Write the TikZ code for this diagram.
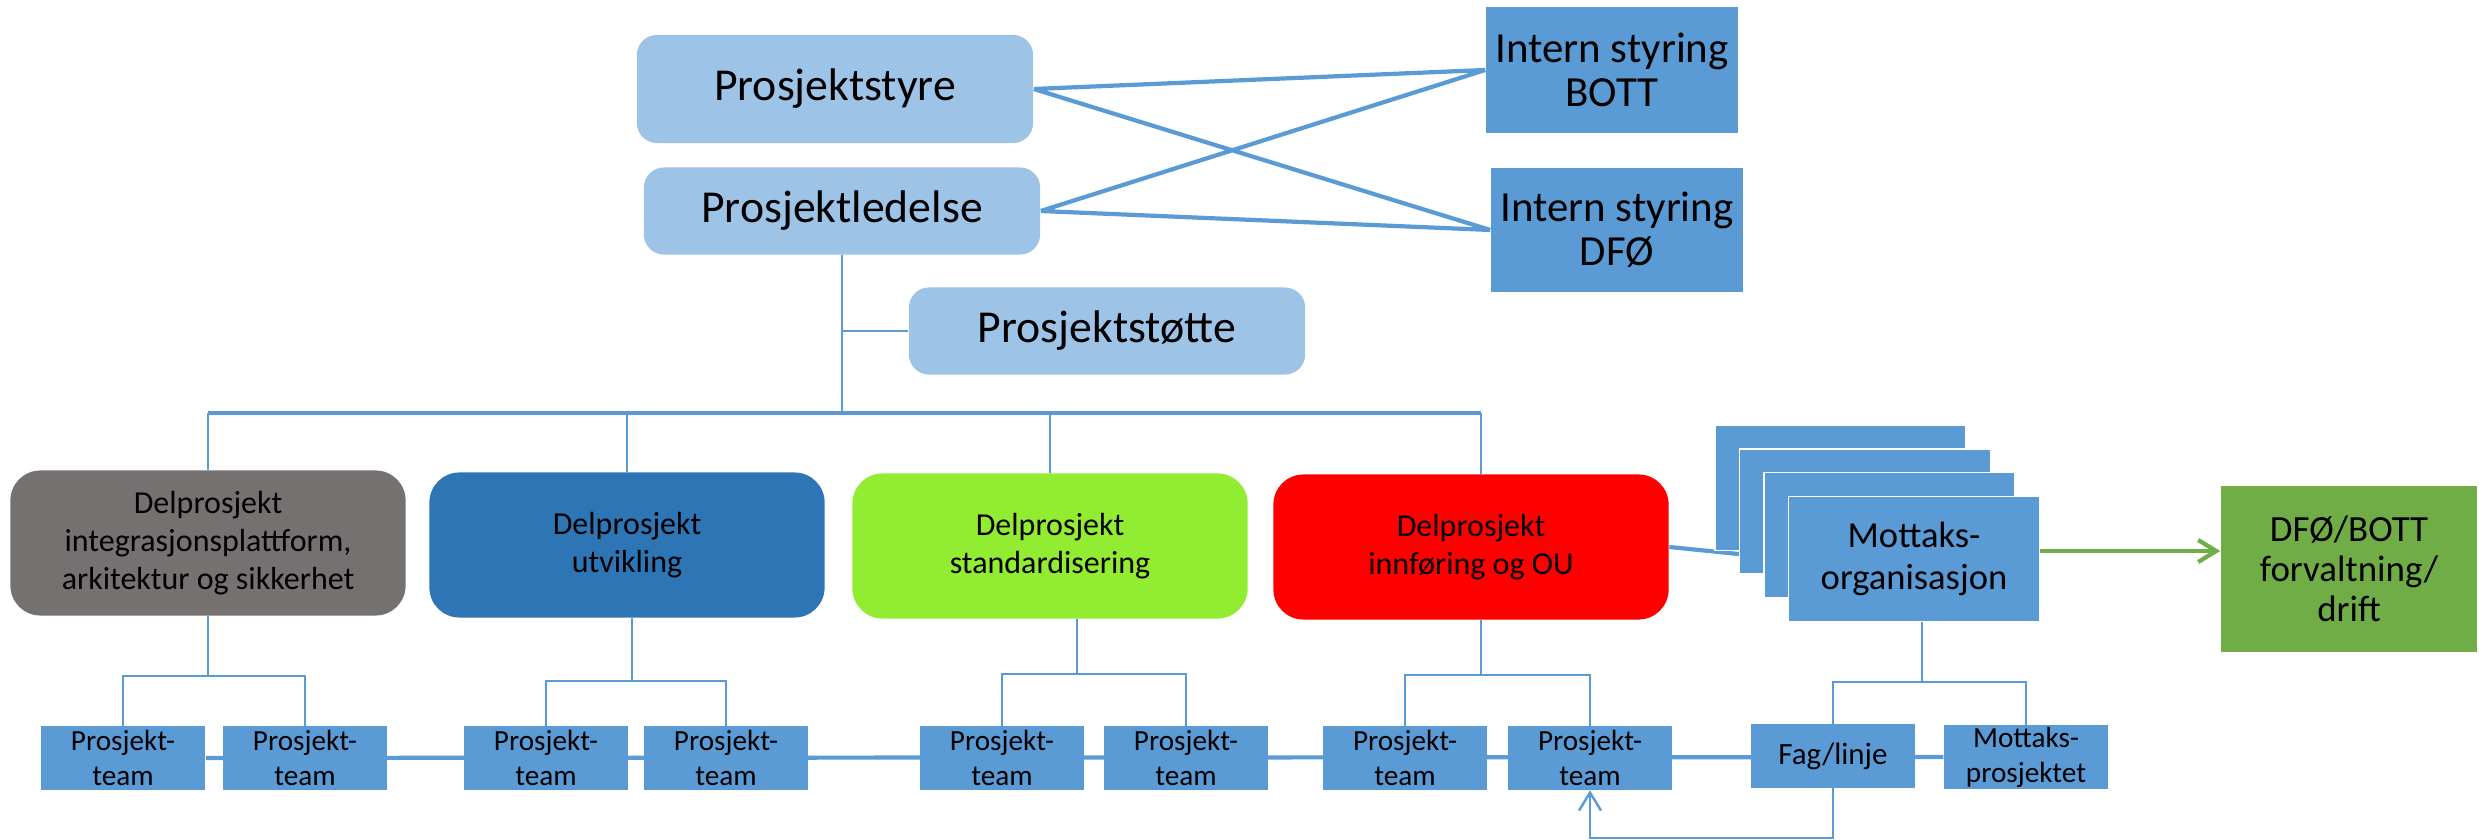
\documentclass[tikz,border=0pt]{standalone}
\usepackage{fontspec}
\setmainfont{Carlito}
\usepackage{tikz}
\usetikzlibrary{calc,arrows.meta,backgrounds}
\definecolor{lightblue}{HTML}{9DC3E6}
\definecolor{midblue}{HTML}{5B9BD5}
\definecolor{darkblue}{HTML}{2E75B6}
\definecolor{stonegrey}{HTML}{767171}
\definecolor{brightgreen}{HTML}{92EC32}
\definecolor{leafgreen}{HTML}{70AD47}

\begin{document}
\begin{tikzpicture}[x=0.01cm,y=-0.01cm,
light/.style={fill=lightblue,rounded corners=0.2cm,minimum width=3.96cm,minimum height=0.87cm,inner sep=0pt,font=\fontsize{13}{15}\selectfont},
flat/.style={fill=midblue,inner sep=0pt,align=center},
intern/.style={flat,minimum width=2.52cm,minimum height=1.24cm,font=\fontsize{12.2}{12.6}\selectfont},
delbox/.style={fill=#1,rounded corners=0.3cm,minimum width=3.95cm,minimum height=1.45cm,inner sep=0pt,align=center,font=\fontsize{9.1}{10.8}\selectfont},
team/.style={flat,minimum width=1.64cm,minimum height=0.63cm,font=\fontsize{8.3}{10}\selectfont},
mottaksbox/.style={flat,draw=white,line width=0.4pt,minimum width=2.51cm,minimum height=1.25cm},
link/.style={draw=midblue,line width=0.7pt},
thick link/.style={draw=midblue,line width=1.2pt},
>={Straight Barb[length=0.18cm,width=0.22cm]}]
\useasboundingbox (0,0) rectangle (2479,840);

\node (styre) at (835,89)[light,minimum height=1.08cm]{Prosjektstyre};
\node (led) at (842,211)[light]{Prosjektledelse};
\node (stotte) at (1107,331)[light]{Prosjektstøtte};
\node (bott) at (1612,70)[intern,minimum height=1.26cm]{Intern styring\\BOTT};
\node (dfo) at (1617,230)[intern]{Intern styring\\DFØ};

\node (grey) at (208,543)[delbox=stonegrey]{Delprosjekt\\integrasjonsplattform,\\arkitektur og sikkerhet};
\node (blue) at (627,545)[delbox=darkblue]{Delprosjekt\\utvikling};
\node (green) at (1050,546)[delbox=brightgreen]{Delprosjekt\\standardisering};
\node (red) at (1471,547)[delbox=red]{Delprosjekt\\innføring og OU};

\foreach \k in {3,2,1}
  \node (stack\k) at ($(1914,559)+\k*(-24.5,-23.7)$)[mottaksbox]{};
\node (mottak) at (1914,559)[mottaksbox,font=\fontsize{10.4}{12}\selectfont]{Mottaks-\\organisasjon};
\node (drift) at (2349,569)[fill=leafgreen,minimum width=2.56cm,minimum height=1.66cm,inner sep=0pt,align=center,font=\fontsize{10.5}{11.4}\selectfont]{DFØ/BOTT\\forvaltning/\\drift};

\foreach \n/\x in {1/123,2/305,3/546,4/726,5/1002,6/1186,7/1405,8/1590}
  \node (t\n) at (\x,758)[team]{Prosjekt-\\team};
\node (fag) at (1833,756)[team,font=\fontsize{8.8}{10}\selectfont]{Fag/linje};
\node (mp) at (2026,757)[team]{Mottaks-\\prosjektet};

\begin{scope}[on background layer]
\draw[thick link] (styre.east) -- (bott.west) (styre.east) -- (dfo.west)
  (led.east) -- (bott.west) (led.east) -- (dfo.west);
\coordinate (bus) at (led.south |- 0,413);
\draw[link] (led.south) -- (bus);
\draw[link] (stotte.west) -- (stotte.west -| bus);
\draw[thick link] (grey.north |- bus) -- ([xshift=0.1cm]red.north |- bus);
\draw[link] (grey.north) -- (grey.north |- bus) (blue.north) -- (blue.north |- bus)
  (green.north) -- (green.north |- bus) ([xshift=0.1cm]red.north) -- ([xshift=0.1cm]red.north |- bus);
\foreach \p/\s/\d/\a/\b in {grey/0cm/60/t1/t2,blue/0.05cm/63/t3/t4,green/0.27cm/55/t5/t6,red/0.1cm/55/t7/t8,mottak/0.08cm/60/fag/mp}
  \draw[link] ([xshift=\s]\p.south) -- ++(0,\d) coordinate (j) (\a.north) |- (j) -| (\b.north);
\draw[thick link] (t1) -- (mp);
\draw[thick link] (red.east) -- (mottak.west);
\end{scope}

\draw[->,draw=leafgreen,line width=1.2pt] ([yshift=0.08cm]mottak.east) coordinate (m) -- (m -| drift.west);
\draw[link,->] (fag.south) -- ++(0,50) -| (t8.south);
\end{tikzpicture}
\end{document}
